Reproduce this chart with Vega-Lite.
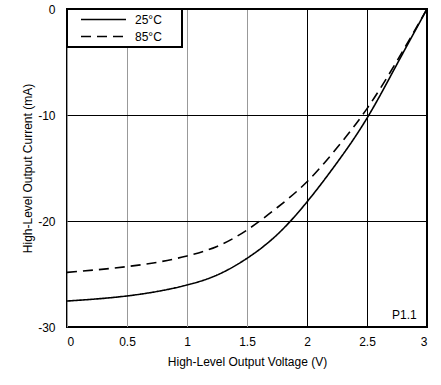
{
  "$schema": "https://vega.github.io/schema/vega-lite/v6.json",
  "width": 360,
  "height": 318,
  "autosize": "none",
  "padding": {"left": 67, "top": 9, "right": 14, "bottom": 58},
  "background": "white",
  "config": {
    "font": "Liberation Sans",
    "view": {"stroke": "black", "strokeWidth": 2},
    "legend": {"strokeWidth": 2},
    "axis": {"labelFont": "Liberation Sans", "titleFont": "Liberation Sans", "labelFontSize": 12, "titleFontSize": 12, "titleFontWeight": "normal", "labelColor": "black", "titleColor": "black", "ticks": false, "domain": false, "titleLimit": 500}
  },
  "layer": [
    {
      "data": {"values": [
        {"v": 0, "i": -27.55, "t": "25°C"},
        {"v": 0.25, "i": -27.35, "t": "25°C"},
        {"v": 0.5, "i": -27.07, "t": "25°C"},
        {"v": 0.75, "i": -26.65, "t": "25°C"},
        {"v": 1, "i": -26.04, "t": "25°C"},
        {"v": 1.25, "i": -25.1, "t": "25°C"},
        {"v": 1.5, "i": -23.52, "t": "25°C"},
        {"v": 1.75, "i": -21.3, "t": "25°C"},
        {"v": 2, "i": -18.2, "t": "25°C"},
        {"v": 2.25, "i": -14.5, "t": "25°C"},
        {"v": 2.5, "i": -10.3, "t": "25°C"},
        {"v": 2.75, "i": -5.2, "t": "25°C"},
        {"v": 3, "i": 0, "t": "25°C"},
        {"v": 0, "i": -24.85, "t": "85°C"},
        {"v": 0.25, "i": -24.6, "t": "85°C"},
        {"v": 0.5, "i": -24.3, "t": "85°C"},
        {"v": 0.75, "i": -23.9, "t": "85°C"},
        {"v": 1, "i": -23.3, "t": "85°C"},
        {"v": 1.25, "i": -22.4, "t": "85°C"},
        {"v": 1.5, "i": -20.85, "t": "85°C"},
        {"v": 1.75, "i": -18.75, "t": "85°C"},
        {"v": 2, "i": -16.3, "t": "85°C"},
        {"v": 2.25, "i": -13.1, "t": "85°C"},
        {"v": 2.5, "i": -9.4, "t": "85°C"},
        {"v": 2.75, "i": -4.9, "t": "85°C"},
        {"v": 3, "i": 0, "t": "85°C"}
      ]},
      "mark": {"type": "line", "color": "black", "strokeWidth": 1.6, "interpolate": "natural"},
      "encoding": {
        "x": {"field": "v", "type": "quantitative", "scale": {"domain": [0, 3], "nice": false},
          "axis": {"values": [0, 0.5, 1, 1.5, 2, 2.5, 3], "labelExpr": "'' + datum.value", "title": "High-Level Output Voltage (V)", "labelPadding": 9, "titlePadding": 9,
            "grid": true, "gridColor": {"condition": {"test": "datum.value < 2", "value": "#999999"}, "value": "black"}, "gridOpacity": 1, "gridWidth": 1}},
        "y": {"field": "i", "type": "quantitative", "scale": {"domain": [-30, 0], "nice": false},
          "axis": {"values": [-30, -20, -10, 0], "labelExpr": "'' + datum.value", "title": "High-Level Output Current (mA)", "labelPadding": 12, "titlePadding": 3,
            "grid": true, "gridColor": "black", "gridOpacity": 1, "gridWidth": 1}},
        "strokeDash": {"field": "t", "type": "nominal", "scale": {"domain": ["25°C", "85°C"], "range": [[1, 0], [10, 6]]},
          "legend": {"title": "\u00a0", "titleOrient": "right", "titlePadding": 17, "titleFontSize": 12, "orient": "top-left", "offset": 0, "strokeColor": "black", "fillColor": "white", "padding": 3,
            "symbolType": "stroke", "symbolSize": 2025, "symbolStrokeWidth": 1.6, "symbolStrokeColor": "black", "symbolOffset": 10,
            "clipHeight": 15, "labelFontSize": 12, "labelFont": "Liberation Sans", "labelColor": "black", "labelOffset": 8}}
      }
    },
    {
      "data": {"values": [{"v": 2.914, "i": -29.25, "label": "P1.1"}]},
      "mark": {"type": "text", "align": "right", "baseline": "alphabetic", "fontSize": 12, "font": "Liberation Sans", "color": "black"},
      "encoding": {
        "x": {"field": "v", "type": "quantitative"},
        "y": {"field": "i", "type": "quantitative"},
        "text": {"field": "label"}
      }
    }
  ]
}
